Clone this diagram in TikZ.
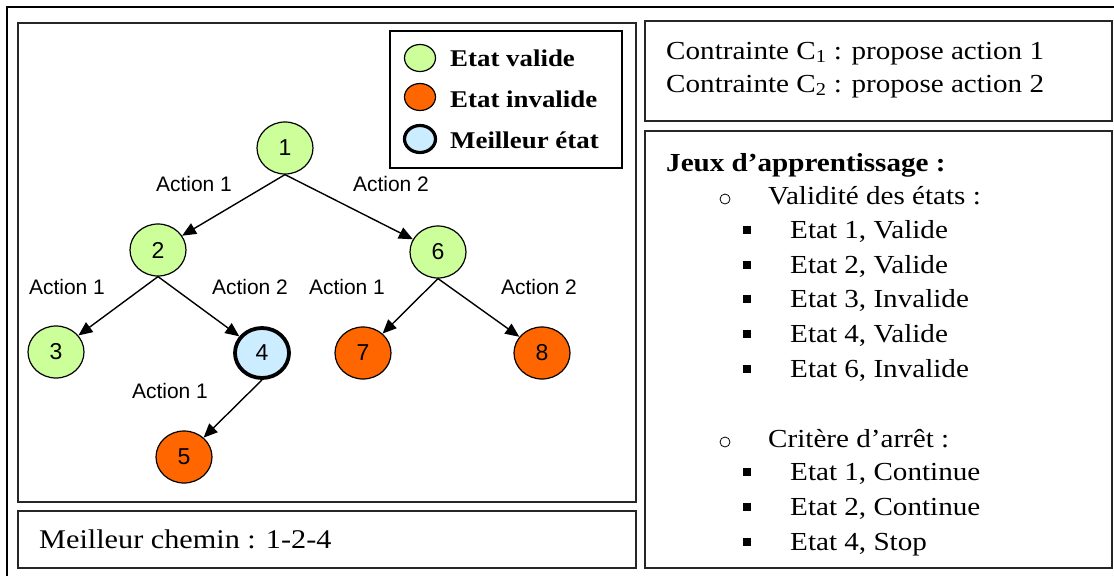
\documentclass[tikz,border=0pt]{standalone}
\usepackage{fontspec}
\setmainfont[FakeStretch=1.12]{Liberation Serif}
\setsansfont{Liberation Sans}
\usetikzlibrary{arrows.meta,shapes.geometric}
\definecolor{valide}{HTML}{CCFF99}
\definecolor{invalide}{HTML}{FF6600}
\definecolor{meilleur}{HTML}{CCECFF}

\begin{document}
\begin{tikzpicture}[x=1pt, y=-1pt, >={Triangle[length=14pt,width=12pt]},
  etat/.style={ellipse, draw, line width=1.2pt, minimum width=56pt, minimum height=52pt, inner sep=0pt, font=\sffamily\fontsize{23}{23}\selectfont},
  ok/.style={etat, fill=valide},
  ko/.style={etat, fill=invalide},
  best/.style={etat, fill=meilleur, line width=3.8pt, minimum width=54pt, minimum height=50pt},
  legsym/.style={ellipse, draw, line width=1.2pt, minimum width=31pt, minimum height=27pt, inner sep=0pt},
  legtxt/.style={anchor=base west, inner sep=0pt, font=\bfseries\fontsize{24}{24}\selectfont},
  action/.style={font=\sffamily\fontsize{21}{21}\selectfont, inner sep=0pt},
  arrow/.style={->, line width=1.4pt},
  panel/.style={draw=black!85, line width=1.6pt},
  txt/.style={anchor=base west, inner sep=0pt, font=\fontsize{26}{26}\selectfont},
  puce/.style={rectangle, fill=black, minimum size=8pt, inner sep=0pt},
  rond/.style={circle, draw, line width=0.8pt, minimum size=10pt, inner sep=0pt}]
  \useasboundingbox (0,0) rectangle (1114,576);
  % cadres
  \draw[line width=2pt] (7,576) -- (7,7) -- (1114,7);
  \draw[panel] (18,23) rectangle (636,502);
  \draw[panel] (18,511) rectangle (636,568);
  \draw[panel] (645,21) rectangle (1112,121);
  \draw[panel] (645,131) rectangle (1112,568);
  % legende
  \draw[line width=2pt] (390,31) rectangle (622,168);
  \node[legsym, fill=valide] (lv) at (420,58) {};
  \node[legsym, fill=invalide] (li) at (420,97) {};
  \node[legsym, fill=meilleur, line width=3.2pt] (lm) at (420,139) {};
  \node[legtxt] (tv) at (450,66) {Etat valide};
  \node[legtxt] (ti) at (450,107) {Etat invalide};
  \node[legtxt] (tm) at (450,148) {Meilleur état};
  % arbre
  \node[ok] (n1) at (285,148) {1};
  \node[ok] (n2) at (158,250) {2};
  \node[ok] (n6) at (438,252) {6};
  \node[ok] (n3) at (56,352) {3};
  \node[best] (n4) at (262,353) {4};
  \node[ko] (n7) at (363,353) {7};
  \node[ko] (n8) at (542,353) {8};
  \node[ko] (n5) at (184,457) {5};
  \draw[arrow] (n1.south) -- (n2);
  \draw[arrow] (n1.south) -- (n6);
  \draw[arrow] (n2.south) -- (n3);
  \draw[arrow] (n2.south) -- (n4);
  \draw[arrow] (n6.south) -- (n7);
  \draw[arrow] (n6.south) -- (n8);
  \draw[arrow] (n4.south) -- (n5);
  \node[action] (a12) at (194,184) {Action 1};
  \node[action] (a16) at (391,184) {Action 2};
  \node[action] (a23) at (67,287) {Action 1};
  \node[action] (a24) at (250,287) {Action 2};
  \node[action] (a67) at (347,287) {Action 1};
  \node[action] (a68) at (539,287) {Action 2};
  \node[action] (a45) at (170,391) {Action 1};
  % chemin
  \node[txt, font=\fontsize{27}{27}\selectfont] (chemin) at (39,548) {Meilleur chemin : 1-2-4};
  % contraintes
  \node[txt] (c1) at (666,59) {Contrainte C\textsubscript{1} : propose action 1};
  \node[txt] (c2) at (666,92) {Contrainte C\textsubscript{2} : propose action 2};
  % jeux
  \node[txt, font=\bfseries\fontsize{26}{26}\selectfont] (jeux) at (666,171) {Jeux d’apprentissage :};
  \node[rond] (r1) at (725,199) {};
  \node[txt] (val) at (768,204) {Validité des états :};
  \node[puce] (p1) at (747,230) {};
  \node[txt] (v1) at (790,238) {Etat 1, Valide};
  \node[puce] (p2) at (747,265) {};
  \node[txt] (v2) at (790,273) {Etat 2, Valide};
  \node[puce] (p3) at (747,299) {};
  \node[txt] (v3) at (790,307) {Etat 3, Invalide};
  \node[puce] (p4) at (747,334) {};
  \node[txt] (v4) at (790,342) {Etat 4, Valide};
  \node[puce] (p6) at (747,369) {};
  \node[txt] (v6) at (790,377) {Etat 6, Invalide};
  \node[rond] (r2) at (725,442) {};
  \node[txt] (arret) at (768,447) {Critère d’arrêt :};
  \node[puce] (q1) at (747,472) {};
  \node[txt] (s1) at (790,480) {Etat 1, Continue};
  \node[puce] (q2) at (747,507) {};
  \node[txt] (s2) at (790,515) {Etat 2, Continue};
  \node[puce] (q4) at (747,542) {};
  \node[txt] (s4) at (790,550) {Etat 4, Stop};
\end{tikzpicture}
\end{document}
